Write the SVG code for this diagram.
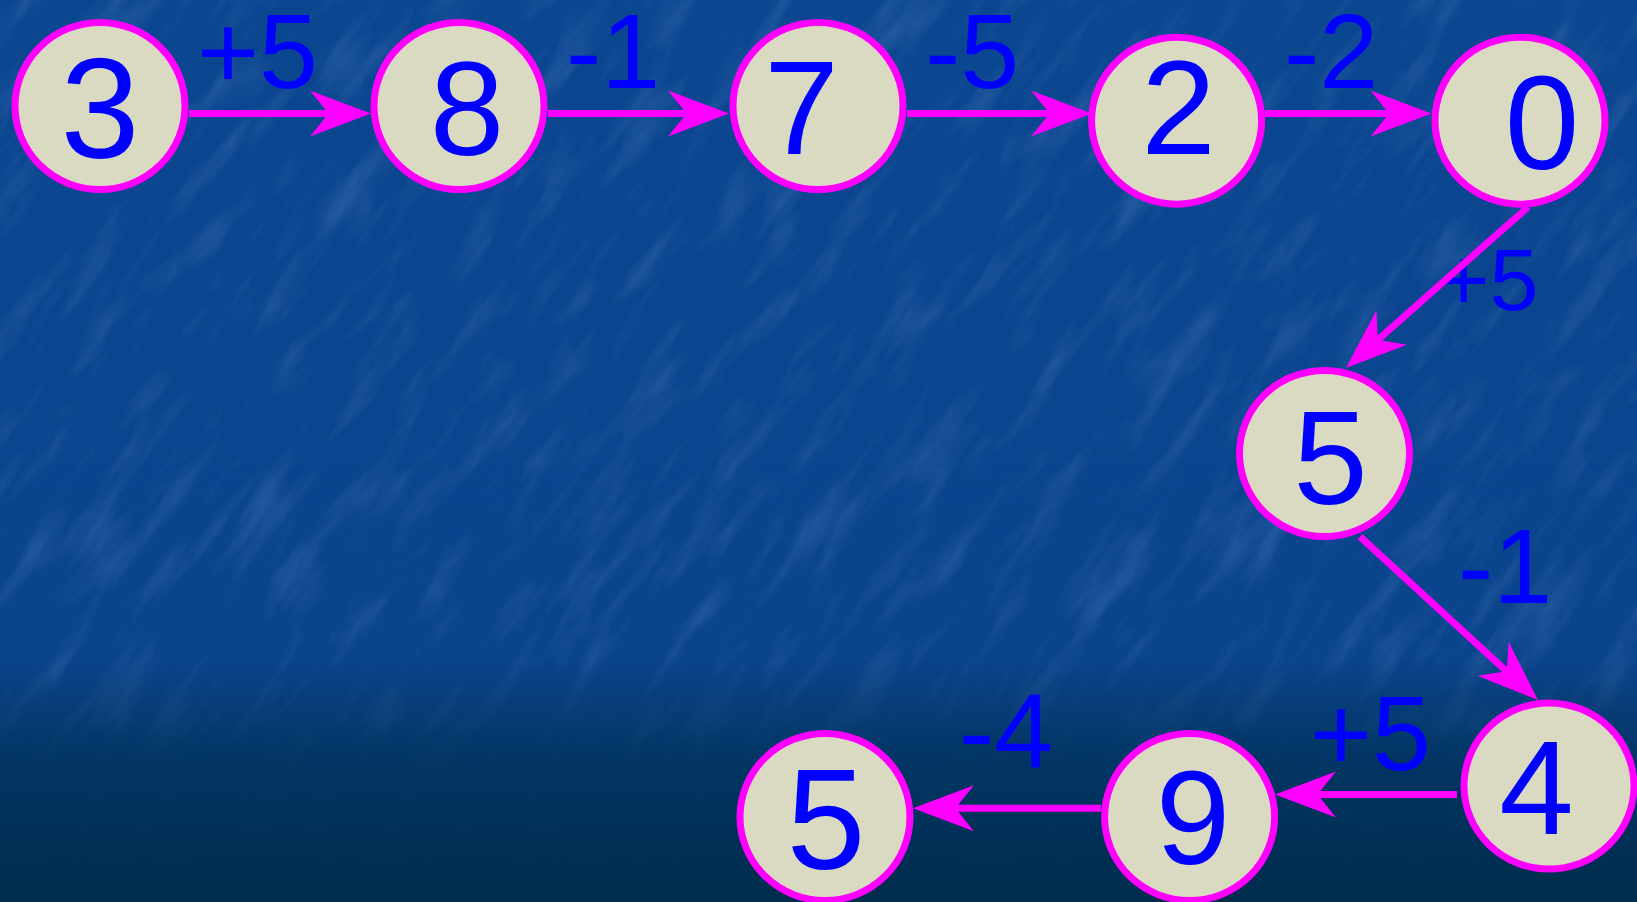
<svg xmlns="http://www.w3.org/2000/svg" width="1637" height="902" viewBox="0 0 1637 902">
  <defs>
    <linearGradient id="bg" x1="0" y1="0" x2="0" y2="1">
      <stop offset="0" stop-color="#0b4690"/>
      <stop offset="0.7" stop-color="#0a448d"/>
      <stop offset="1" stop-color="#0a4289"/>
    </linearGradient>
    <linearGradient id="dark" x1="0" y1="0" x2="0" y2="1">
      <stop offset="0" stop-color="#012d52" stop-opacity="0"/>
      <stop offset="0.25" stop-color="#023460" stop-opacity="0.55"/>
      <stop offset="0.4" stop-color="#013460" stop-opacity="0.9"/>
      <stop offset="1" stop-color="#002c4c" stop-opacity="1"/>
    </linearGradient>
    <filter id="tex" x="0" y="0" width="1" height="1" filterUnits="objectBoundingBox">
      <feTurbulence type="fractalNoise" baseFrequency="0.04 0.009" numOctaves="4" seed="11"/>
      <feColorMatrix type="matrix" values="0 0 0 0 0.45  0 0 0 0 0.65  0 0 0 0 1  1.6 0 0 0 -0.78"/>
    </filter>
    <marker id="ah" markerUnits="userSpaceOnUse" orient="auto" markerWidth="70" markerHeight="50" viewBox="-64 -25 66 50" refX="-42.5" refY="0" overflow="visible">
      <path d="M0,0 L-61,-23 L-42.5,0 L-61,23 Z" fill="#ff00ff"/>
    </marker>
    <style>
      .node ellipse { fill: #dadac2; stroke: #ff00ff; stroke-width: 7; }
      .node text { font-family: "Liberation Sans", Arial, sans-serif; font-size: 134px; fill: #0000ff; text-anchor: middle; }
      .lbl { font-family: "Liberation Sans", Arial, sans-serif; font-size: 106px; fill: #0000ff; }
      .edge { stroke: #ff00ff; stroke-width: 7; fill: none; marker-end: url(#ah); }
    </style>
  </defs>

  <g id="background">
    <rect x="0" y="0" width="1637" height="902" fill="url(#bg)"/>
    <rect x="-600" y="-600" width="2900" height="2100" filter="url(#tex)" opacity="0.2" transform="rotate(35 818 451)"/>
    <rect x="0" y="660" width="1637" height="242" fill="url(#dark)"/>
  </g>

  <g id="labels">
    <text class="lbl" x="197" y="88">+5</text>
    <text class="lbl" x="566" y="88">-1</text>
    <text class="lbl" x="925" y="88">-5</text>
    <text class="lbl" x="1284" y="88">-2</text>
    <text class="lbl" x="1438" y="310" style="font-size:88px">+5</text>
    <text class="lbl" x="1458" y="603">-1</text>
    <text class="lbl" x="1310" y="770">+5</text>
    <text class="lbl" x="959" y="768">-4</text>
  </g>

  <g id="connectors">
    <path class="edge" d="M189,113.5 L328.5,113.5"/>
    <path class="edge" d="M548,113.5 L686.5,113.5"/>
    <path class="edge" d="M907,113.5 L1049.5,113.5"/>
    <path class="edge" d="M1265,113.5 L1389,113.5"/>
    <path class="edge" d="M1528,207 L1377.8,339.8"/>
    <path class="edge" d="M1360,536.6 L1506.7,671.3"/>
    <path class="edge" d="M1457,794.4 L1317.5,794.4"/>
    <path class="edge" d="M1101,808.3 L955.4,808.3"/>
  </g>

  <g id="n3" class="node">
    <ellipse cx="100" cy="106" rx="85" ry="83.5"/>
    <text x="100" y="158" style="font-size:142px">3</text>
  </g>
  <g id="n8" class="node">
    <ellipse cx="459" cy="106" rx="85" ry="83.5"/>
    <text x="467" y="155">8</text>
  </g>
  <g id="n7" class="node">
    <ellipse cx="818" cy="106" rx="85" ry="83.5"/>
    <text x="801.5" y="154">7</text>
  </g>
  <g id="n2" class="node">
    <ellipse cx="1176.6" cy="120.7" rx="85" ry="83.5"/>
    <text x="1178.5" y="154">2</text>
  </g>
  <g id="n0" class="node">
    <ellipse cx="1520" cy="120.7" rx="85" ry="83.5"/>
    <text x="1542" y="169">0</text>
  </g>
  <g id="n5a" class="node">
    <ellipse cx="1324.5" cy="453.5" rx="85" ry="83"/>
    <text x="1330.5" y="504">5</text>
  </g>
  <g id="n4" class="node">
    <ellipse cx="1549" cy="786" rx="85" ry="83"/>
    <text x="1536.5" y="834">4</text>
  </g>
  <g id="n9" class="node">
    <ellipse cx="1189.6" cy="817" rx="85" ry="83.5"/>
    <text x="1193" y="864">9</text>
  </g>
  <g id="n5b" class="node">
    <ellipse cx="825" cy="817" rx="85" ry="83.5"/>
    <text x="826" y="869" style="font-size:142px">5</text>
  </g>
</svg>
